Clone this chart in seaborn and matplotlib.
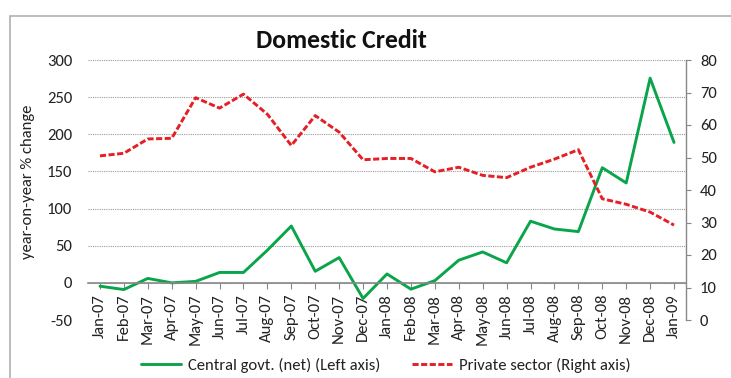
import matplotlib
matplotlib.use("Agg")
import matplotlib.pyplot as plt
import seaborn as sns
import pandas as pd
from matplotlib.patches import Rectangle
from matplotlib.lines import Line2D
from matplotlib import font_manager

months = ["Jan-07", "Feb-07", "Mar-07", "Apr-07", "May-07", "Jun-07", "Jul-07", "Aug-07",
          "Sep-07", "Oct-07", "Nov-07", "Dec-07", "Jan-08", "Feb-08", "Mar-08", "Apr-08",
          "May-08", "Jun-08", "Jul-08", "Aug-08", "Sep-08", "Oct-08", "Nov-08", "Dec-08", "Jan-09"]
central_govt = [-4.5, -9, 6, 0, 2, 14, 14, 44, 76.5, 15.6, 34, -21, 12, -8.5, 3, 30.5,
                41.6, 27, 83, 72.5, 69, 155, 134.5, 275.5, 189]
private_sector = [50.5, 51.3, 55.7, 55.9, 68.4, 65.2, 69.5, 63.3, 53.7, 62.9, 57.8, 49.3,
                  49.7, 49.7, 45.6, 47, 44.5, 43.8, 47, 49.5, 52.4, 37.3, 35.6, 33.2, 29.2]
left_ticks = [-50, 0, 50, 100, 150, 200, 250, 300]
right_ticks = [0, 10, 20, 30, 40, 50, 60, 70, 80]

sns.set_theme(style="white")
avail = {f.name for f in font_manager.fontManager.ttflist}
fam = next((f for f in ["Carlito", "Liberation Sans Narrow", "Lato"] if f in avail), "DejaVu Sans")
plt.rcParams['font.family'] = [fam, 'DejaVu Sans']
plt.rcParams['axes.unicode_minus'] = False

GREEN = "#0AA54B"
RED = "#E41F26"
TXT = "#222222"
FS = 12
DASH = (2.1, 0.85)

df = pd.DataFrame({"idx": range(len(months)), "month": months,
                   "govt": central_govt, "private": private_sector})

fig = plt.figure(figsize=(7.31, 3.78), dpi=100)
ax = fig.add_axes([88/731, 1-320/378, (686-88)/731, (320-60)/378])
ax2 = ax.twinx()

sns.lineplot(data=df, x="idx", y="govt", ax=ax, color=GREEN, linewidth=2.1)
sns.lineplot(data=df, x="idx", y="private", ax=ax2, color=RED, linewidth=2.1)
ax2.lines[0].set_dashes(DASH)

ax.set_xlim(-0.5, len(months)-0.5)
ax.set_ylim(-50, 300)
ax2.set_ylim(0, 80)
ax.set_yticks(left_ticks)
ax.set_yticklabels([str(t) for t in left_ticks])
ax2.set_yticks(right_ticks)
ax2.set_yticklabels([str(t) for t in right_ticks])
ax.set_xticks(range(len(months)))
ax.set_xticklabels(months)

ax.grid(axis="y", color="#9a9a9a", linestyle=(0, (1, 1)), linewidth=0.8)
ax.set_axisbelow(True)

for a in (ax, ax2):
    for s in ("top", "left"):
        a.spines[s].set_visible(False)
ax2.spines["bottom"].set_visible(False)
ax.spines["right"].set_visible(False)
ax2.spines["right"].set_color("#888888")
ax2.spines["right"].set_linewidth(1.0)
ax.spines["bottom"].set_position(("data", 0))
ax.spines["bottom"].set_color("#888888")
ax.spines["bottom"].set_linewidth(1.2)

ax.tick_params(axis="x", which="major", bottom=True, length=4, width=0.8, color="#888888",
               labelsize=FS, labelcolor=TXT, pad=4, labelrotation=90)
ax2.tick_params(axis="x", bottom=False, labelbottom=False)
ax.tick_params(axis="y", left=False, length=0, labelsize=FS, labelcolor=TXT, pad=11.5)
ax2.tick_params(axis="y", right=True, length=3.5, width=0.8, color="#888888",
                labelsize=FS, labelcolor=TXT, pad=6.5)

ax.set_xlabel("")
ax.set_ylabel("year-on-year % change", fontsize=FS, color=TXT)
ax.yaxis.set_label_coords((35-88)/598, 1-(182-60)/260)
ax2.set_ylabel("")

fig.text(341/731, 1-41/378, "Domestic Credit", ha="center", va="center",
         fontsize=18.5, fontweight="bold", color="#111111")

handles = [Line2D([], [], color=GREEN, linewidth=2.1),
           Line2D([], [], color=RED, linewidth=2.1, dashes=DASH)]
fig.legend(handles, ["Central govt. (net) (Left axis)", "Private sector (Right axis)"],
           loc="center", bbox_to_anchor=(386/731, 1-365/378), ncol=2, frameon=False,
           fontsize=FS, handlelength=2.4, handletextpad=0.4, columnspacing=1.9,
           labelcolor=TXT)

fig.patches.append(Rectangle((10/731, -0.1), 1.2, 1-16/378+0.1, transform=fig.transFigure,
                             fill=False, edgecolor="#b0b0b0", linewidth=1.2, zorder=0))

fig.savefig("out.png", dpi=100)
